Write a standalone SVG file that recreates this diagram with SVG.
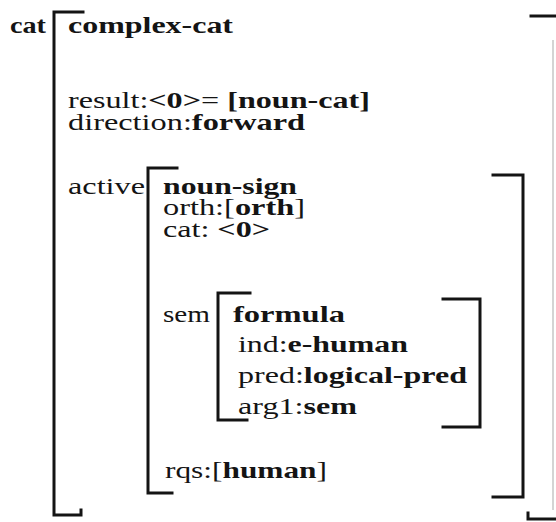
<svg xmlns="http://www.w3.org/2000/svg" width="556" height="522" viewBox="0 0 556 522">
  <style>
    text { font-family: "Liberation Serif", "Times New Roman", serif; font-size: 24px; fill: #141414; }
    .b { font-weight: bold; }
    .br { fill: none; stroke: #141414; stroke-width: 3; stroke-linecap: square; }
    .faint { fill: none; stroke: #d4d4d4; stroke-width: 2; }
  </style>
  <rect width="556" height="522" fill="#ffffff"/>

  <!-- outer feature structure: cat -->
  <g id="cat-avm">
    <text class="b" x="10" y="33" textLength="36" lengthAdjust="spacingAndGlyphs">cat</text>
    <path class="br" d="M83,12 H54 V515 H81 V510"/>
    <path class="br" d="M531,16 H556"/>
    <path class="faint" d="M553,40 V510"/>
    <path class="br" d="M528,513 V519 H556"/>
    <text class="b" x="68" y="33" textLength="165" lengthAdjust="spacingAndGlyphs">complex-cat</text>
    <text x="68" y="108" textLength="302" lengthAdjust="spacingAndGlyphs">result:<tspan class="b">&lt;0&gt;</tspan>= <tspan class="b">[noun-cat]</tspan></text>
    <text x="68" y="130" textLength="237" lengthAdjust="spacingAndGlyphs">direction:<tspan class="b">forward</tspan></text>
    <text x="68" y="194" textLength="77" lengthAdjust="spacingAndGlyphs">active</text>
  </g>

  <!-- active: noun-sign -->
  <g id="noun-sign-avm">
    <path class="br" d="M177,168 H148 V493 H172"/>
    <path class="br" d="M493,175 H523 V497 H493"/>
    <text class="b" x="163" y="194" textLength="134" lengthAdjust="spacingAndGlyphs">noun-sign</text>
    <text x="163" y="215" textLength="142" lengthAdjust="spacingAndGlyphs">orth:[<tspan class="b">orth</tspan>]</text>
    <text x="163" y="237" textLength="107" lengthAdjust="spacingAndGlyphs">cat: <tspan class="b">&lt;0&gt;</tspan></text>
    <text x="163" y="322" textLength="47" lengthAdjust="spacingAndGlyphs">sem</text>
    <text x="165" y="478" textLength="162" lengthAdjust="spacingAndGlyphs">rqs:[<tspan class="b">human</tspan>]</text>
  </g>

  <!-- sem: formula -->
  <g id="formula-avm">
    <path class="br" d="M250,293 H218 V420 H247"/>
    <path class="br" d="M443,299 H480 V427 H443"/>
    <text class="b" x="233" y="322" textLength="112" lengthAdjust="spacingAndGlyphs">formula</text>
    <text x="238" y="352" textLength="170" lengthAdjust="spacingAndGlyphs">ind:<tspan class="b">e-human</tspan></text>
    <text x="238" y="383" textLength="229" lengthAdjust="spacingAndGlyphs">pred:<tspan class="b">logical-pred</tspan></text>
    <text x="238" y="414" textLength="119" lengthAdjust="spacingAndGlyphs">arg1:<tspan class="b">sem</tspan></text>
  </g>
</svg>
